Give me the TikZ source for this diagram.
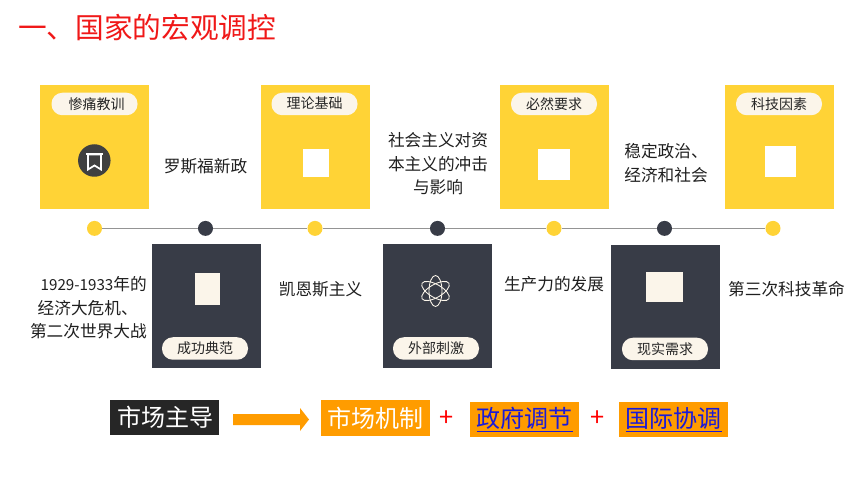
\documentclass[tikz,border=0pt]{standalone}
\usepackage{fontspec}
\setmainfont{Noto Sans CJK SC}
\definecolor{yel}{HTML}{FFD336}
\definecolor{dark}{HTML}{383C47}
\definecolor{pill}{HTML}{FBF5EA}
\definecolor{org}{HTML}{FF9C00}
\definecolor{titlered}{HTML}{F01818}
\definecolor{linkblue}{HTML}{1A1AD8}
\tikzset{
  x=0.75pt,y=-0.75pt,
  pxsize/.style 2 args={minimum width=#1*0.75pt,minimum height=#2*0.75pt},
  card/.style={pxsize={109}{124},inner sep=0,anchor=north west,fill=#1,draw=none},
  pillbox/.style={rounded corners=8.2pt,fill=pill,pxsize={86}{22.5},inner sep=0,font=\fontsize{10.5}{12}\selectfont,text=black!85},
  dot/.style={circle,fill=#1,minimum size=15*0.75pt,inner sep=0},
  lab/.style={font=\fontsize{12.5}{17.6}\selectfont,text=black!88,align=center,inner sep=0},
  sq/.style={fill=#1,inner sep=0,draw=none},
  bottombox/.style={fill=#1,inner sep=0,minimum height=35*0.75pt,font=\fontsize{18}{20}\selectfont},
  plus/.style={font=\fontsize{19}{20}\selectfont,text=red,inner sep=0},
  conn/.style={draw=black!42,line width=0.9pt},
}
\newcommand{\lnk}[1]{\underline{#1}}
\begin{document}
\begin{tikzpicture}
\useasboundingbox (0,0) rectangle (860,484);
\fill[white] (0,0) rectangle (860,484);
\node[anchor=west,inner sep=0,text=titlered,font=\fontsize{21.5}{24}\selectfont] (title) at (18,27) {一、国家的宏观调控};
% cards
\node[card=yel] (c1) at (40,85) {};
\node[card=dark] (c2) at (151.5,244) {};
\node[card=yel] (c3) at (260.5,85) {};
\node[card=dark] (c4) at (382.5,244) {};
\node[card=yel] (c5) at (500,85) {};
\node[card=dark] (c6) at (610.5,245) {};
\node[card=yel] (c7) at (725,85) {};
% pills
\node[pillbox] (p1) at (94.5,104) {\hspace{3pt}惨痛教训};
\node[pillbox] (p3) at (314.5,104) {\raisebox{2pt}{理论基础}};
\node[pillbox] (p5) at (554,104) {\raisebox{1pt}{必然要求}};
\node[pillbox] (p7) at (779,104) {\raisebox{1pt}{科技因素}};
\node[pillbox] (p2) at (205,348.5) {成功典范};
\node[pillbox] (p4) at (436,348.5) {外部刺激};
\node[pillbox] (p6) at (665,349) {现实需求};
% icons
\node[circle,fill=black!75,minimum size=32.5*0.75pt,inner sep=0] (i1) at (94.3,160.5) {};
\draw[white,line width=1.3pt,line join=miter] (88,154.5) -- (101,154.5) -- (101,169.5) -- (94.5,165.5) -- (88,169.5) -- cycle;
\draw[white,line width=1.3pt] (86,153.8) -- (103,153.8);
\node[sq=white,pxsize={26}{27.5}] (i3) at (316,163) {};
\node[sq=white,pxsize={32}{30.5}] (i5) at (553.5,164.5) {};
\node[sq=white,pxsize={31}{31}] (i7) at (780.5,162) {};
\node[sq=pill,pxsize={25}{31.5}] (i2) at (207.5,289) {};
\node[sq=pill,pxsize={37.5}{30.5}] (i6) at (664.5,287) {};
\coordinate (atom) at (435.5,291);
\foreach \a in {0,60,120}{
  \draw[pill,line width=0.65pt,rotate around={\a:(atom)}] (atom) ellipse (6.5 and 15.5);
}
% timeline
\node[dot=yel] (d1) at (94.5,228.4) {};
\node[dot=dark] (d2) at (205.5,228.4) {};
\node[dot=yel] (d3) at (315,228.4) {};
\node[dot=dark] (d4) at (437.5,228.4) {};
\node[dot=yel] (d5) at (554,228.4) {};
\node[dot=dark] (d6) at (664.5,228.4) {};
\node[dot=yel] (d7) at (773,228.4) {};
\draw[conn] (d1) -- (d2);
\draw[conn] (d2) -- (d3);
\draw[conn] (d3) -- (d4);
\draw[conn] (d4) -- (d5);
\draw[conn] (d5) -- (d6);
\draw[conn] (d6) -- (d7);
% labels
\node[lab] (t1) at (205.5,166) {罗斯福新政};
\node[lab] (t2) at (438,164) {社会主义对资\\本主义的冲击\\与影响};
\node[lab] (t3) at (666,163) {稳定政治、\\经济和社会};
\node[lab,align=right,anchor=east] (t4) at (147,308) {{\fontsize{11.4}{17.6}\selectfont 1929-1933}年的\\经济大危机、\rule{6.75pt}{0pt}\\第二次世界大战};
\node[lab] (t5) at (320.5,289) {凯恩斯主义};
\node[lab] (t6) at (554,284) {生产力的发展};
\node[lab] (t7) at (786.5,289) {第三次科技革命};
% bottom row
\node[bottombox=black!85,text=white,minimum width=109*0.75pt] (b1) at (164.5,417.5) {\hspace{1pt}市场主导};
\node[bottombox=org,text=white,minimum width=109*0.75pt] (b2) at (375,418) {市场机制};
\node[bottombox=org,text=linkblue,minimum width=109*0.75pt] (b3) at (524.5,419.5) {\lnk{政府调节}};
\node[bottombox=org,text=linkblue,minimum width=109*0.75pt] (b4) at (673.5,419.5) {\lnk{国际协调}};
\node[plus] (pl1) at (446.5,419) {+};
\node[plus] (pl2) at (598,419) {+};
\fill[org] (233,414) -- (300,414) -- (300,408) -- (309,419.5) -- (300,431) -- (300,425) -- (233,425) -- cycle;
\end{tikzpicture}
\end{document}
